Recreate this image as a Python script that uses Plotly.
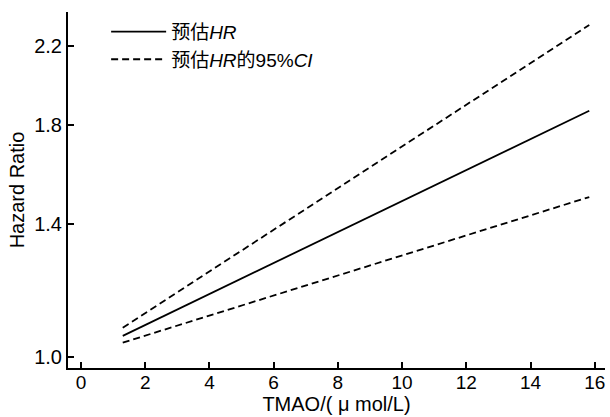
import plotly.graph_objects as go

tmao = [1.3, 15.83]
hr = [1.055, 1.867]
ci_upper = [1.077, 2.32]
ci_lower = [1.037, 1.50]

x_ticks = [0, 2, 4, 6, 8, 10, 12, 14, 16]
y_ticks = [1.0, 1.4, 1.8, 2.2]
y_tick_labels = ["1.0", "1.4", "1.8", "2.2"]

FONT = "Liberation Sans, Arial, Noto Sans CJK SC, sans-serif"

fig = go.Figure()
fig.add_trace(go.Scatter(x=tmao, y=hr, mode="lines", name="预估<i>HR</i>",
                         line=dict(color="black", width=1.8)))
fig.add_trace(go.Scatter(x=tmao, y=ci_upper, mode="lines", name="预估<i>HR</i>的95%<i>CI</i>",
                         line=dict(color="black", width=1.8, dash="7px,4px")))
fig.add_trace(go.Scatter(x=tmao, y=ci_lower, mode="lines", showlegend=False,
                         line=dict(color="black", width=1.8, dash="7px,4px")))

fig.update_layout(
    template="none",
    width=610, height=417,
    margin=dict(l=68, r=5, t=12, b=49),
    paper_bgcolor="white", plot_bgcolor="white",
    font=dict(family=FONT, size=20, color="black"),
    legend=dict(x=0.071, y=0.998, xanchor="left", yanchor="top",
                bgcolor="rgba(0,0,0,0)", font=dict(size=19),
                tracegroupgap=0, itemwidth=55),
    showlegend=True,
)
fig.update_xaxes(
    range=[-0.405, 16.32], tickvals=x_ticks,
    ticks="inside", ticklen=6, tickwidth=1.5, tickcolor="black",
    showline=True, linecolor="black", linewidth=2,
    showgrid=False, zeroline=False, automargin=False,
    ticklabelstandoff=-4,
    title=dict(text="TMAO/( μ mol/L)", standoff=4, font=dict(size=20)),
    tickfont=dict(size=19),
)
fig.update_yaxes(
    type="log", range=[-0.01213, 0.3798],
    tickvals=y_ticks, ticktext=y_tick_labels,
    ticks="inside", ticklen=6, tickwidth=1.5, tickcolor="black",
    showline=True, linecolor="black", linewidth=2,
    showgrid=False, zeroline=False, automargin=False,
    title=dict(text="Hazard Ratio", standoff=4, font=dict(size=20)),
    tickfont=dict(size=20),
)

fig.write_html("out.html", config={"displayModeBar": False},
               post_script="document.body.style.margin='0';")
